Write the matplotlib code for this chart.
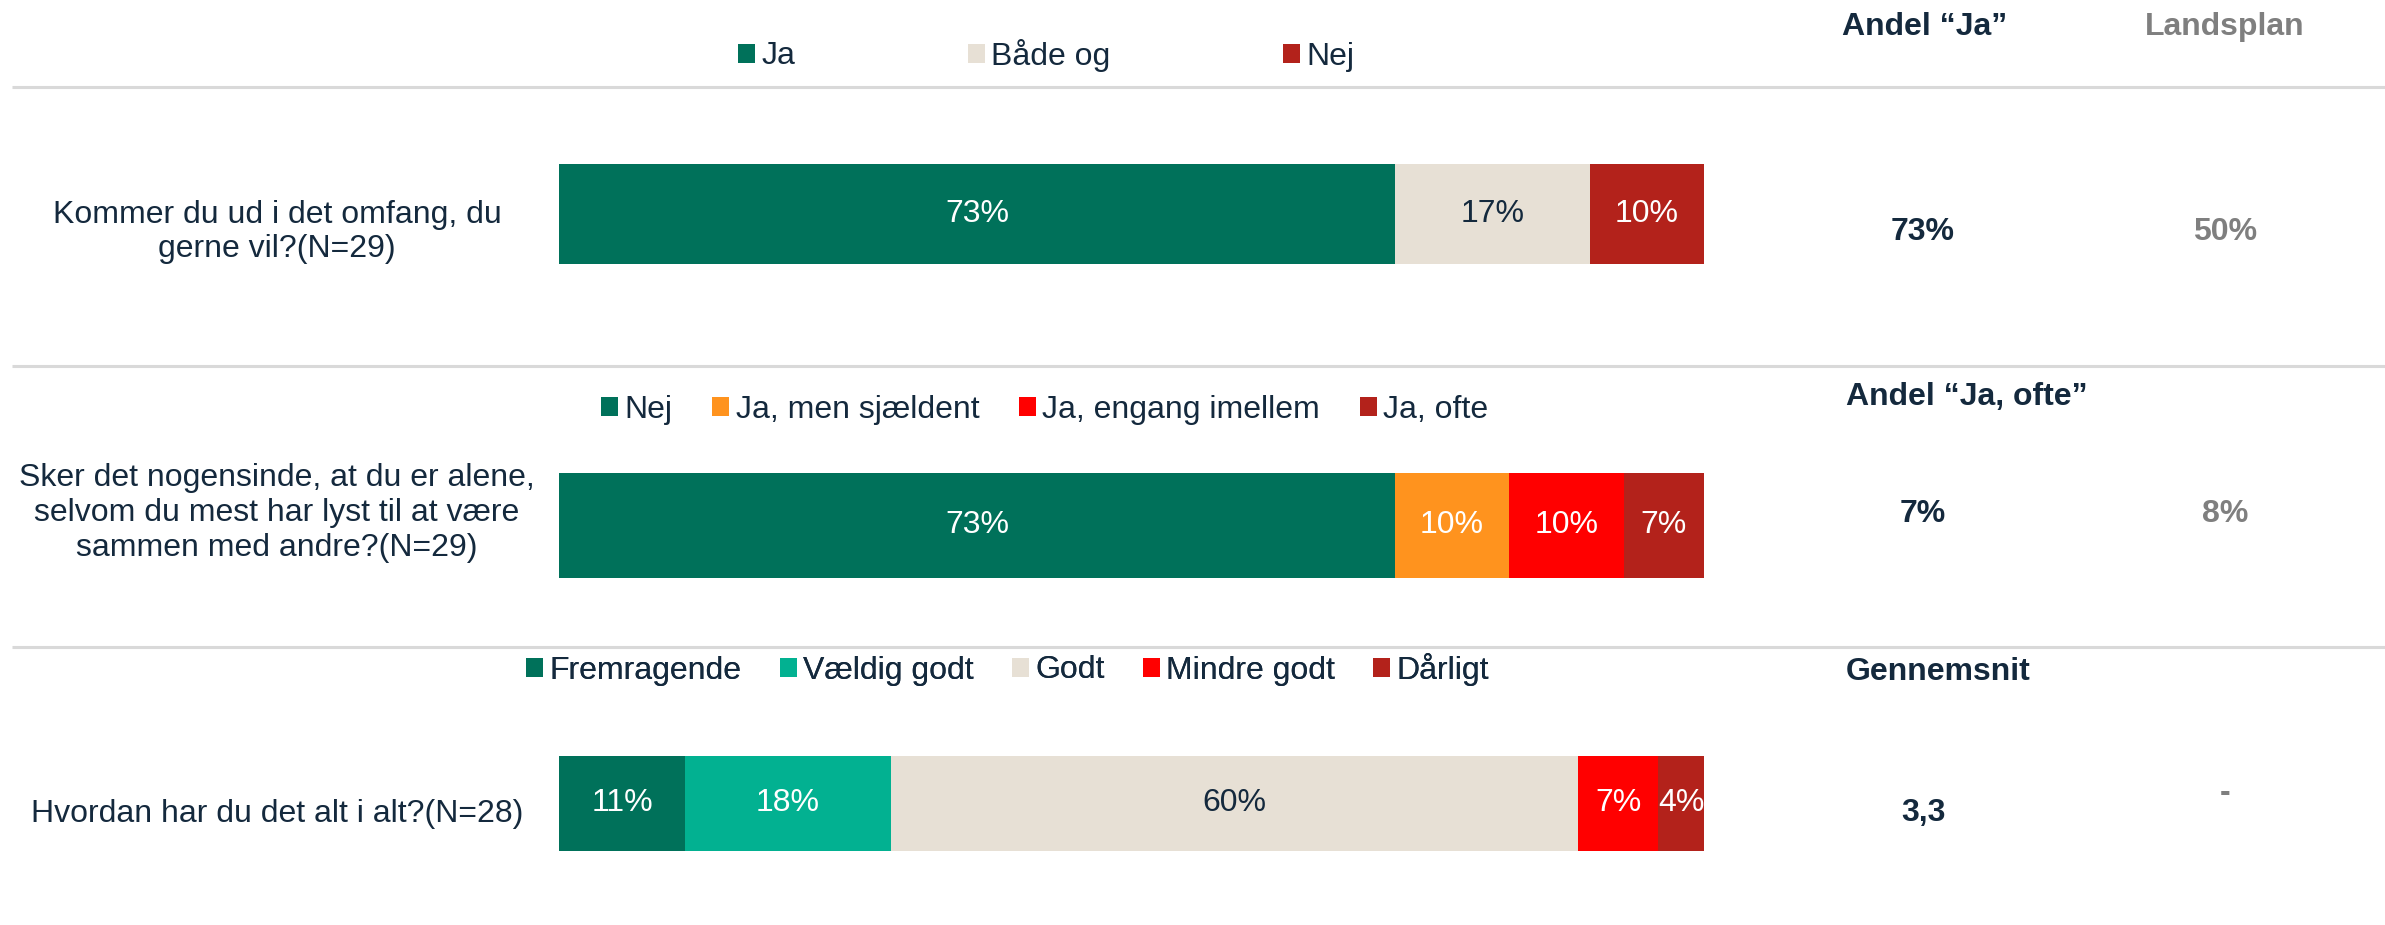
import matplotlib.pyplot as plt
from matplotlib.patches import Patch

plt.rcParams['font.family'] = ['Liberation Sans', 'DejaVu Sans']

questions = ['Kommer du ud i det omfang, du\ngerne vil?(N=29)',
             'Sker det nogensinde, at du er alene,\nselvom du mest har lyst til at være\nsammen med andre?(N=29)',
             'Hvordan har du det alt i alt?(N=28)']
cats_1 = ['Ja', 'Både og', 'Nej']
vals_1 = [73, 17, 10]
cats_2 = ['Nej', 'Ja, men sjældent', 'Ja, engang imellem', 'Ja, ofte']
vals_2 = [73, 10, 10, 7]
cats_3 = ['Fremragende', 'Vældig godt', 'Godt', 'Mindre godt', 'Dårligt']
vals_3 = [11, 18, 60, 7, 4]
headers = ['Andel \u201cJa\u201d', 'Andel \u201cJa, ofte\u201d', 'Gennemsnit']
own_vals = ['73%', '7%', '3,3']
national_vals = ['50%', '8%', '-']

GREEN = '#00715A'
TEAL = '#02B191'
BEIGE = '#E7E0D5'
DRED = '#B3221B'
RED = '#FF0000'
ORANGE = '#FF931E'
NAVY = '#14293D'
GRAY = '#7F7F7F'

colors_1 = [GREEN, BEIGE, DRED]
colors_2 = [GREEN, ORANGE, RED, DRED]
colors_3 = [GREEN, TEAL, BEIGE, RED, DRED]

W, H = 2385, 925
fig = plt.figure(figsize=(W / 100, H / 100), dpi=100)

# overlay axes in pixel coordinates for text, lines, legends
ov = fig.add_axes([0, 0, 1, 1])
ov.set_xlim(0, W)
ov.set_ylim(H, 0)
ov.axis('off')

# bar axes: x in percent, y in pixels
bx = fig.add_axes([559 / W, 0, 1145 / W, 1])
bx.set_xlim(0, 100)
bx.set_ylim(H, 0)
bx.axis('off')

fs = 23
rows = [(vals_1, colors_1, 214, 100), (vals_2, colors_2, 525, 105), (vals_3, colors_3, 803, 95)]
for vals, cols, yc, hh in rows:
    left = 0
    for v, c in zip(vals, cols):
        bx.barh(yc, v, left=left, height=hh, color=c, linewidth=0)
        tc = NAVY if c == BEIGE else 'white'
        bx.text(left + v / 2, yc, f'{v}%', ha='center', va='center', fontsize=fs, color=tc)
        left += v

# separators
for y in [87, 366, 647]:
    ov.plot([12, W], [y, y], color='#D9D9D9', lw=2.2, solid_capstyle='butt')

# question labels
for q, y in zip(questions, [232, 513, 814]):
    ov.text(277, y, q, ha='center', va='center', fontsize=fs, color=NAVY, linespacing=1.2)

# right columns
ov.text(1842, 27, headers[0], ha='left', va='center', fontsize=fs, color=NAVY, fontweight='bold')
ov.text(2225, 27, 'Landsplan', ha='center', va='center', fontsize=fs, color=GRAY, fontweight='bold')
ov.text(1846, 397, headers[1], ha='left', va='center', fontsize=fs, color=NAVY, fontweight='bold')
ov.text(1846, 672, headers[2], ha='left', va='center', fontsize=fs, color=NAVY, fontweight='bold')
for v, y in zip(own_vals, [232, 514, 813]):
    ov.text(1923, y, v, ha='center', va='center', fontsize=fs, color=NAVY, fontweight='bold')
for v, y in zip(national_vals, [232, 514, 793]):
    ov.text(2225, y, v, ha='center', va='center', fontsize=fs, color=GRAY, fontweight='bold')

# legends
legs = [(cats_1, colors_1, 738, 55, 5.4), (cats_2, colors_2, 601, 410, 1.25), (cats_3, colors_3, 526, 669, 1.2)]
for cats, cols, lx, ly, cs in legs:
    handles = [Patch(facecolor=c, edgecolor='none') for c in cols]
    lg = ov.legend(handles, cats, loc='center left', bbox_to_anchor=(lx, ly),
                   bbox_transform=ov.transData, ncol=len(cats), frameon=False,
                   fontsize=fs, labelcolor=NAVY, handlelength=0.53, handleheight=0.53,
                   handletextpad=0.2, columnspacing=cs, borderpad=0, borderaxespad=0)
    ov.add_artist(lg)

fig.savefig('out.png', dpi=100)
